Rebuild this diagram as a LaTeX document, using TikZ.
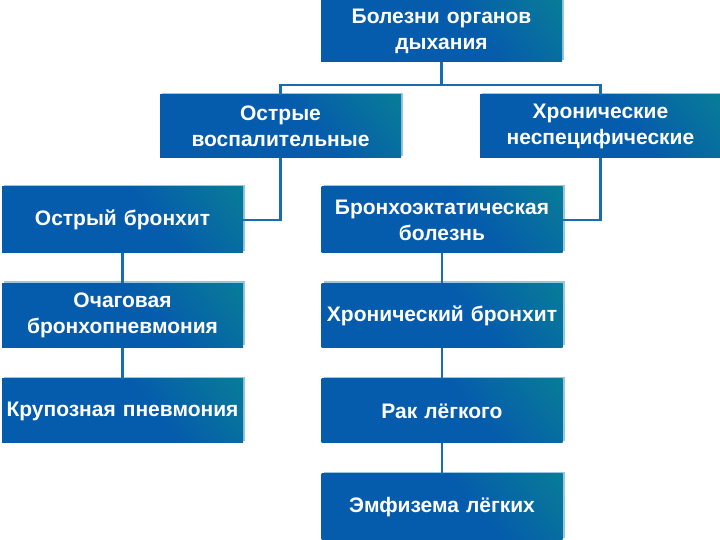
\documentclass[tikz,border=0pt]{standalone}
\usepackage{fontspec}
\setmainfont{Liberation Sans}
\usetikzlibrary{shadows}

\definecolor{boxblue}{RGB}{6,92,172}
\definecolor{boxteal}{RGB}{10,142,140}
\definecolor{boxedge}{RGB}{150,200,225}
\definecolor{linkblue}{RGB}{22,110,176}

\pgfdeclarehorizontalshading{boxshade}{100bp}{color(0bp)=(boxblue); color(58bp)=(boxblue); color(100bp)=(boxteal)}

\tikzset{
  disease/.style = {shading = boxshade, shading angle = 40,
    minimum width = 241pt, minimum height = 64pt, text width = 238pt,
    align = center, inner sep = 0pt, text = white,
    font = \bfseries\fontsize{21}{26}\selectfont,
    drop shadow = {shadow xshift = 2pt, shadow yshift = 2pt,
      fill = boxedge, opacity = 1}},
  link/.style = {draw = linkblue, line width = 2.5pt}
}

\begin{document}
\begin{tikzpicture}[x = 1pt, y = 1pt]
\useasboundingbox (0, 0) rectangle (720, 540);
\node (top) at (441.5, 509) [disease, minimum height = 62pt] {Болезни органов\\дыхания};
\node (acute) at (280.5, 413.5) [disease, minimum height = 63pt] {Острые\\воспалительные};
\node (chronic) at (600.5, 413.5) [disease, minimum height = 63pt] {Хронические\\неспецифические};
% left column
\node (bronchitis) at (122.5, 320) [disease, minimum height = 66pt] {Острый бронхит};
\node (focal) at (122.5, 224.5) [disease] {Очаговая\\бронхопневмония};
\node (lobar) at (122.5, 129) [disease] {Крупозная пневмония};
% right column
\node (ectasis) at (442, 320) [disease, minimum height = 66pt] {Бронхоэктатическая\\болезнь};
\node (chrbronch) at (442, 224.5) [disease] {Хронический бронхит};
\node (cancer) at (442, 129) [disease] {Рак лёгкого};
\node (emphysema) at (442, 33) [disease, minimum height = 66pt] {Эмфизема лёгких};

\coordinate (bus) at ([yshift = -23pt]top.south);
\draw [link] (top.south) -- (bus);
\draw [link] (acute.north) |- (bus) -| (chronic.north);
\draw [link] (acute.south) |- (bronchitis.east);
\draw [link] (chronic.south) |- (ectasis.east);
\draw [link] (bronchitis) -- (focal);
\draw [link] (focal) -- (lobar);
\draw [link] (ectasis) -- (chrbronch);
\draw [link] (chrbronch) -- (cancer);
\draw [link] (cancer) -- (emphysema);
\end{tikzpicture}
\end{document}
